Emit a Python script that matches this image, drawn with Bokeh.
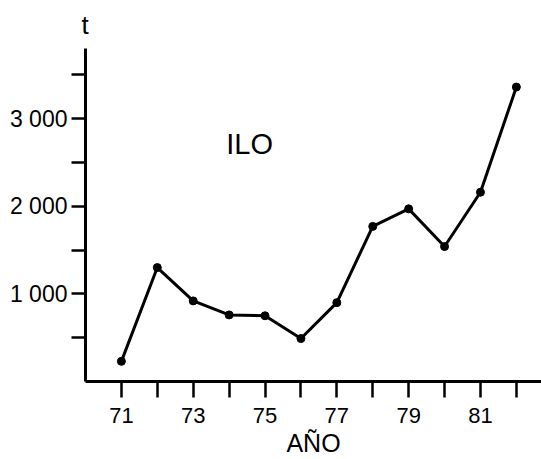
from bokeh.plotting import figure
from bokeh.models import Range1d, FixedTicker, Label
from bokeh.embed import file_html
from bokeh.resources import INLINE

years = [71, 72, 73, 74, 75, 76, 77, 78, 79, 80, 81, 82]
tonnes = [230, 1300, 920, 760, 750, 490, 900, 1770, 1970, 1540, 2160, 3360]

x_major = [71, 73, 75, 77, 79, 81]
x_minor = [72, 74, 76, 78, 80, 82]
y_major = [1000, 2000, 3000]
y_minor = [500, 1500, 2500, 3500]
y_labels = {1000: "1 000", 2000: "2 000", 3000: "3 000"}

FONT = "Liberation Sans"

p = figure(width=541, height=459, output_backend="svg", toolbar_location=None,
           x_range=Range1d(70, 82.7), y_range=Range1d(0, 3800),
           min_border_left=85, min_border_right=0, min_border_top=48,
           min_border_bottom=76, title="t")
p.outline_line_color = None
p.xgrid.visible = False
p.ygrid.visible = False
p.background_fill_color = "white"
p.border_fill_color = "white"

p.title.text_font = FONT
p.title.text_font_size = "26px"
p.title.text_font_style = "normal"
p.title.text_color = "black"
p.title.align = "left"
p.title.vertical_align = "top"
p.title.offset = -4
p.title.standoff = 14

p.line(years, tonnes, line_color="black", line_width=3)
p.scatter(years, tonnes, size=8, color="black")

for ax in (p.xaxis[0], p.yaxis[0]):
    ax.axis_line_width = 3
    ax.axis_line_color = "black"
    ax.major_tick_line_width = 2.5
    ax.minor_tick_line_width = 2.5
    ax.major_tick_line_color = "black"
    ax.minor_tick_line_color = "black"
    ax.major_tick_in = 0
    ax.minor_tick_in = 0
    ax.major_label_text_font = FONT
    ax.major_label_text_color = "black"

xa = p.xaxis[0]
xa.ticker = FixedTicker(ticks=x_major, minor_ticks=x_minor)
xa.major_tick_out = 16
xa.minor_tick_out = 16
xa.major_label_standoff = 10
xa.major_label_text_font_size = "22px"
xa.axis_label = "AÑO"
xa.axis_label_text_font = FONT
xa.axis_label_text_font_size = "25px"
xa.axis_label_text_font_style = "normal"
xa.axis_label_text_color = "black"
xa.axis_label_standoff = 3

ya = p.yaxis[0]
ya.ticker = FixedTicker(ticks=y_major, minor_ticks=y_minor)
ya.major_tick_out = 14
ya.minor_tick_out = 14
ya.major_label_standoff = 4
ya.major_label_text_font_size = "23px"
ya.major_label_overrides = y_labels

p.add_layout(Label(x=74.57, y=2715, text="ILO", text_align="center",
                   text_baseline="middle", text_font=FONT,
                   text_font_size="29px", text_color="black"))

open("out.html", "w").write(file_html(p, INLINE))
